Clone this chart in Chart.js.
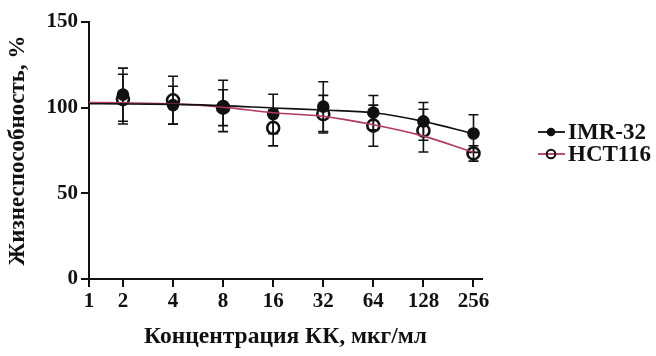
<!DOCTYPE html>
<html>
<head>
<meta charset="utf-8">
<script src="https://cdn.jsdelivr.net/npm/chart.js@4.4.1/dist/chart.umd.min.js"></script>
<style>
  html, body { margin: 0; padding: 0; background: #fff; }
  #wrap { width: 656px; height: 356px; position: relative; }
</style>
</head>
<body>
<div id="wrap"><canvas id="c" width="656" height="356"></canvas></div>
<script>
// концентрации (мкг/мл) и значения
const CONC = [2, 4, 8, 16, 32, 64, 128, 256];
const IMR = [107.6, 101.5, 101, 96.3, 100.6, 97.1, 92, 84.9];
const IMR_ERR = [15.5, 11, 15, 11.5, 14.5, 10, 11, 11];
const HCT = [105, 104.3, 100, 88.2, 96.2, 89.5, 86.6, 73.3];
const HCT_ERR = [14.5, 14, 10.5, 10.5, 11, 12, 12.5, 4.5];

// аппроксимирующие кривые (по рисунку)
const CURVE_CONC = [1.25, 2, 4, 8, 16, 32, 64, 128, 256];
const IMR_FIT = [102.3, 102.2, 101.9, 101.2, 99.8, 98.6, 97, 92, 84.8];
const HCT_FIT = [103, 102.8, 102.2, 100.3, 97, 94.9, 90, 83.4, 73.9];

// ось X: "1" стоит в начале оси
const XTICK_POS = [1.25, 2, 4, 8, 16, 32, 64, 128, 256];
const XTICK_LABELS = ['1', '2', '4', '8', '16', '32', '64', '128', '256'];

const FONT = '"Liberation Serif", "Times New Roman", serif';
const BLACK = '#111';
const RED = '#b23a5a';

const pts = (xs, ys) => xs.map((x, i) => ({ x, y: ys[i] }));

// усы погрешностей
const errorBars = {
  id: 'errorBars',
  beforeDatasetsDraw(chart) {
    const { ctx, scales: { x, y } } = chart;
    ctx.save();
    ctx.strokeStyle = BLACK;
    ctx.lineWidth = 1.6;
    [[IMR, IMR_ERR], [HCT, HCT_ERR]].forEach(([vals, errs]) => {
      CONC.forEach((c, i) => {
        const px = x.getPixelForValue(c);
        const top = y.getPixelForValue(vals[i] + errs[i]);
        const bot = y.getPixelForValue(vals[i] - errs[i]);
        ctx.beginPath();
        ctx.moveTo(px, top); ctx.lineTo(px, bot);
        ctx.moveTo(px - 5, top); ctx.lineTo(px + 5, top);
        ctx.moveTo(px - 5, bot); ctx.lineTo(px + 5, bot);
        ctx.stroke();
      });
    });
    ctx.restore();
  },
};

// легенда справа
const sideLegend = {
  id: 'sideLegend',
  afterDraw(chart) {
    const { ctx } = chart;
    const items = [
      { label: 'IMR-32', color: BLACK, fill: true, y: 132 },
      { label: 'HCT116', color: RED, fill: false, y: 154 },
    ];
    ctx.save();
    items.forEach((it) => {
      ctx.strokeStyle = it.color;
      ctx.lineWidth = 1.8;
      ctx.beginPath();
      ctx.moveTo(538, it.y); ctx.lineTo(565, it.y);
      ctx.stroke();
      ctx.beginPath();
      ctx.arc(551, it.y, 4.3, 0, Math.PI * 2);
      if (it.fill) { ctx.fillStyle = BLACK; ctx.fill(); }
      else { ctx.strokeStyle = BLACK; ctx.lineWidth = 2; ctx.stroke(); }
      ctx.fillStyle = BLACK;
      ctx.font = `bold 23px ${FONT}`;
      ctx.textBaseline = 'middle';
      ctx.fillText(it.label, 568, it.y + 1);
    });
    ctx.restore();
  },
};

new Chart(document.getElementById('c'), {
  type: 'line',
  data: {
    datasets: [
      { data: pts(CURVE_CONC, IMR_FIT), borderColor: BLACK, borderWidth: 1.6, pointRadius: 0, cubicInterpolationMode: 'monotone' },
      { data: pts(CURVE_CONC, HCT_FIT), borderColor: RED, borderWidth: 1.6, pointRadius: 0, cubicInterpolationMode: 'monotone' },
      { data: pts(CONC, HCT), showLine: false, pointRadius: 6, pointBorderWidth: 2.6, pointBorderColor: BLACK, pointBackgroundColor: 'rgba(0,0,0,0)' },
      { data: pts(CONC, IMR), showLine: false, pointRadius: 6.3, pointBorderWidth: 0, pointBackgroundColor: BLACK },
    ],
  },
  options: {
    responsive: false,
    animation: false,
    layout: { padding: { left: 0, top: 22, right: 174, bottom: 5 } },
    plugins: { legend: { display: false }, tooltip: { enabled: false } },
    scales: {
      x: {
        type: 'logarithmic',
        min: 1.25, max: 288,
        afterBuildTicks: (s) => { s.ticks = XTICK_POS.map((v) => ({ value: v })); },
        afterFit: (s) => { s.height = 72; },
        ticks: {
          autoSkip: false, maxRotation: 0, padding: 2, color: BLACK,
          font: { family: FONT, size: 21, weight: 'bold' },
          callback: (v, i) => XTICK_LABELS[i],
        },
        grid: { drawOnChartArea: false, drawTicks: true, tickLength: 8, color: BLACK, lineWidth: 2 },
        border: { display: true, color: BLACK, width: 2 },
        title: {
          display: true, text: 'Концентрация КК, мкг/мл', color: BLACK,
          font: { family: FONT, size: 23.5, weight: 'bold' }, padding: { top: 0, bottom: 0 },
        },
      },
      y: {
        min: 0, max: 150,
        afterBuildTicks: (s) => { s.ticks = [0, 50, 100, 150].map((v) => ({ value: v })); },
        afterFit: (s) => { s.width = 89; },
        ticks: { padding: 3, color: BLACK, font: { family: FONT, size: 21, weight: 'bold' } },
        grid: { drawOnChartArea: false, drawTicks: true, tickLength: 8, color: BLACK, lineWidth: 2 },
        border: { display: true, color: BLACK, width: 2 },
        title: {
          display: true, text: 'Жизнеспособность, %', color: BLACK,
          font: { family: FONT, size: 23, weight: 'bold' }, padding: { top: 4, bottom: 0 },
        },
      },
    },
  },
  plugins: [errorBars, sideLegend],
});
</script>
</body>
</html>
